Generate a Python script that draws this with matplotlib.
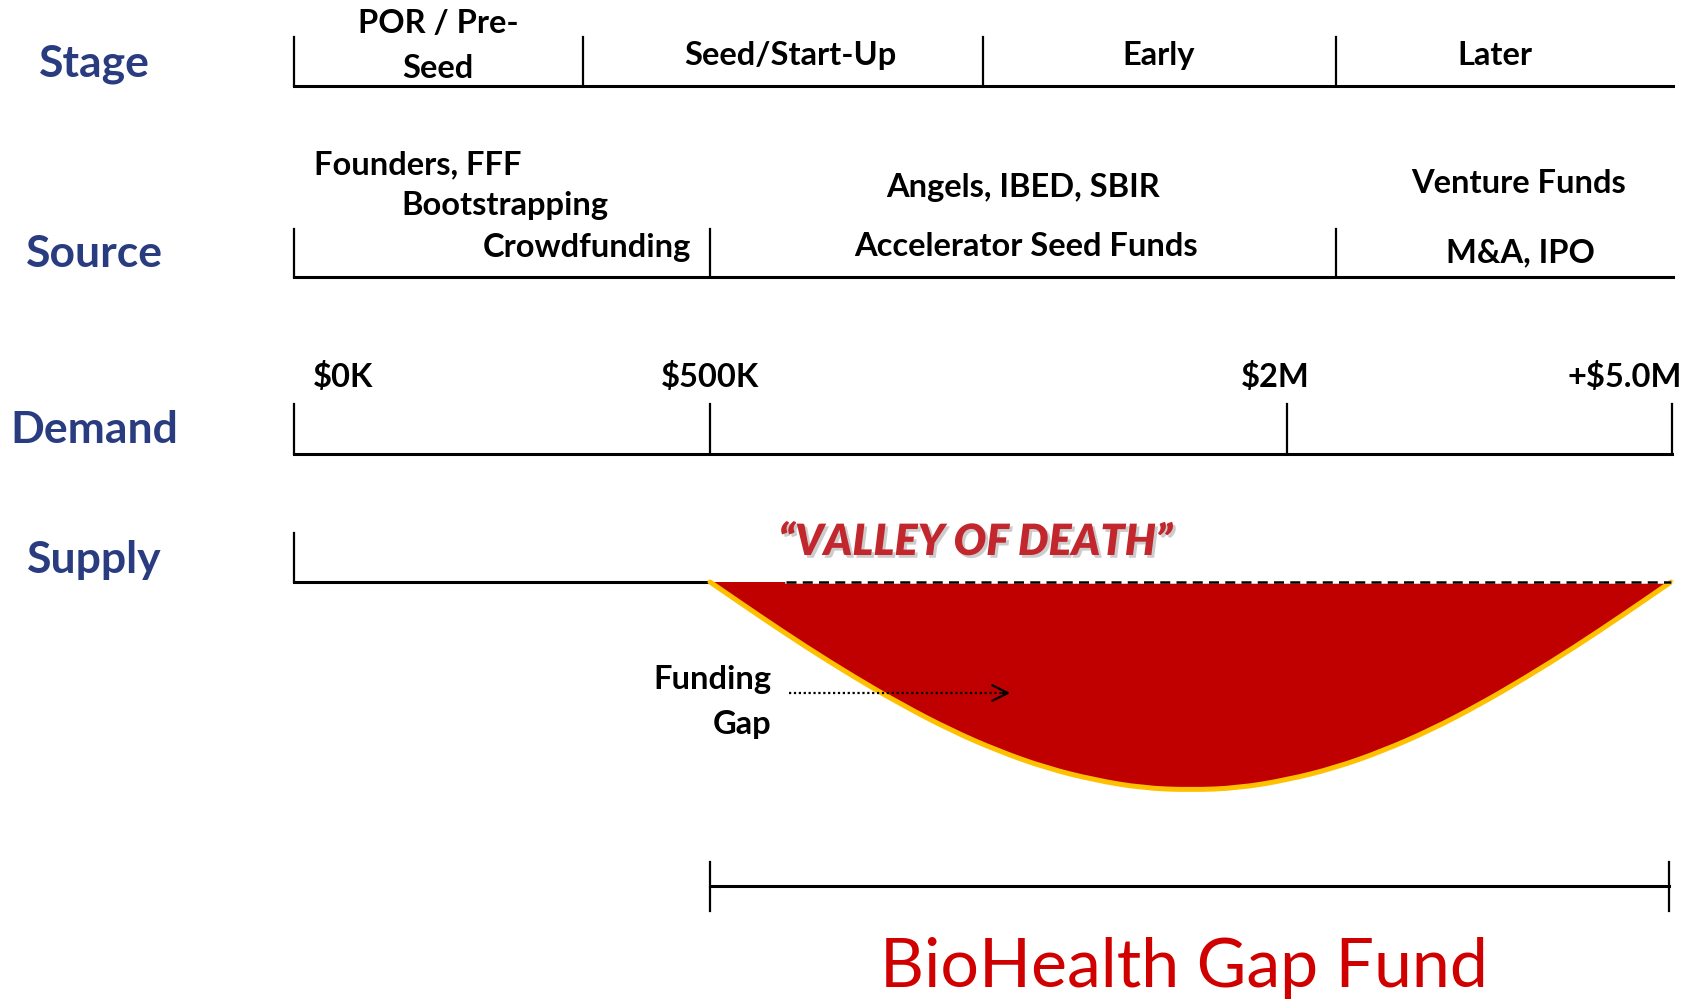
import numpy as np
import matplotlib
matplotlib.use("Agg")
import matplotlib.pyplot as plt
import matplotlib.patheffects as pe
from matplotlib.path import Path
from matplotlib.patches import PathPatch

plt.rcParams['font.family'] = ['Lato', 'DejaVu Sans']

# ---- contenu du schéma ----
row_titles = ["Stage", "Source", "Demand", "Supply"]

stage_labels = ["POR / Pre-\nSeed", "Seed/Start-Up", "Early", "Later"]
stage_edges = [294, 583, 983, 1336, 1673]
stage_label_x = [438, 790, 1159, 1495]

source_early = ["Founders, FFF", "Bootstrapping", "Crowdfunding"]
source_mid = ["Angels, IBED, SBIR", "Accelerator Seed Funds"]
source_late = ["Venture Funds", "M&A, IPO"]
source_edges = [294, 710, 1336, 1673]

demand_labels = ["$0K", "$500K", "$2M", "+$5.0M"]
demand_edges = [294, 710, 1287, 1672]

# profondeur du "valley of death" (en px sous la ligne supply)
gap_frac = [0, .05, .10, .15, .20, .25, .30, .35, .40, .45, .50,
            .55, .60, .65, .70, .75, .80, .85, .90, .95, 1.0]
gap_depth = [0, 33, 65, 95, 123, 148, 169, 186, 198, 206, 208,
             206, 198, 186, 169, 148, 123, 95, 65, 33, 0]

fund_label = "BioHealth Gap Fund"

# ---- couleurs ----
NAVY = "#2A3C80"
RED = "#C00000"
YELLOW = "#FFC000"

fig = plt.figure(figsize=(16.98, 10.01), dpi=100)
ax = fig.add_axes([0, 0, 1, 1])
ax.set_xlim(0, 1698)
ax.set_ylim(1001, 0)
ax.axis("off")

lw = 2.2
bsize = 23.5
tsize = 32

# titres des lignes
for t, yb in zip(row_titles, [76, 267, 443, 573]):
    ax.text(94, yb, t, color=NAVY, fontsize=tsize, fontweight="bold",
            ha="center", va="baseline")

# ---- Stage ----
y_st = 86
ax.plot([stage_edges[0], stage_edges[-1]], [y_st, y_st], color="black", lw=lw)
for x in stage_edges[:-1]:
    ax.plot([x, x], [37, y_st], color="black", lw=1.6)
for cx, lab in zip(stage_label_x, stage_labels):
    lines = lab.split("\n")
    if len(lines) == 2:
        ax.text(cx, 33, lines[0], fontsize=bsize, fontweight="bold", ha="center", va="baseline")
        ax.text(cx, 78, lines[1], fontsize=bsize, fontweight="bold", ha="center", va="baseline")
    else:
        ax.text(cx, 65, lab, fontsize=bsize, fontweight="bold", ha="center", va="baseline")

# ---- Source ----
y_so = 277
ax.plot([source_edges[0], source_edges[-1]], [y_so, y_so], color="black", lw=lw)
for x in source_edges[:-1]:
    ax.plot([x, x], [229, y_so], color="black", lw=1.6)
ax.text(314, 174, source_early[0], fontsize=bsize, fontweight="bold", ha="left", va="baseline")
ax.text(401, 215, source_early[1], fontsize=bsize, fontweight="bold", ha="left", va="baseline")
ax.text(691, 257, source_early[2], fontsize=bsize, fontweight="bold", ha="right", va="baseline")
ax.text(1023, 197, source_mid[0], fontsize=bsize, fontweight="bold", ha="center", va="baseline")
ax.text(1026, 256, source_mid[1], fontsize=bsize, fontweight="bold", ha="center", va="baseline")
ax.text(1519, 193, source_late[0], fontsize=bsize, fontweight="bold", ha="center", va="baseline")
ax.text(1520, 262, source_late[1], fontsize=bsize, fontweight="bold", ha="center", va="baseline")

# ---- Demand ----
y_de = 454
ax.plot([demand_edges[0], demand_edges[-1]], [y_de, y_de], color="black", lw=lw)
for x in demand_edges:
    ax.plot([x, x], [404, y_de], color="black", lw=1.6)
ax.text(313, 387, demand_labels[0], fontsize=bsize, fontweight="bold", ha="left", va="baseline")
ax.text(710, 387, demand_labels[1], fontsize=bsize, fontweight="bold", ha="center", va="baseline")
ax.text(1275, 387, demand_labels[2], fontsize=bsize, fontweight="bold", ha="center", va="baseline")
ax.text(1682, 387, demand_labels[3], fontsize=bsize, fontweight="bold", ha="right", va="baseline")

# ---- Supply + valley of death ----
y_su = 582
x0, x1 = 710, 1671
ax.plot([294, x0], [y_su, y_su], color="black", lw=lw)
ax.plot([294, 294], [533, y_su], color="black", lw=1.6)

gx = x0 + np.array(gap_frac) * (x1 - x0)
gy = y_su + np.array(gap_depth)
pts = np.column_stack([gx, gy])

# courbe lissée : segments quadratiques entre les milieux
verts = [pts[0]]
codes = [Path.MOVETO]
mids = (pts[:-1] + pts[1:]) / 2
verts.append(mids[0]); codes.append(Path.LINETO)
for i in range(1, len(pts) - 1):
    verts += [pts[i], mids[i]]
    codes += [Path.CURVE3, Path.CURVE3]
verts.append(pts[-1]); codes.append(Path.LINETO)
curve = Path(verts, codes)
fill = Path(verts + [pts[0]], codes + [Path.LINETO])
ax.add_patch(PathPatch(fill, facecolor=RED, edgecolor="none", zorder=2))
ax.add_patch(PathPatch(curve, facecolor="none", edgecolor=YELLOW, lw=3.6,
                       capstyle="round", zorder=3))

ax.plot([786, x1], [y_su, y_su], color="white", lw=1.8, zorder=4)
ax.plot([786, x1], [y_su, y_su], color="black", lw=1.8, ls=(0, (4, 2.5)), zorder=5)

ax.text(975, 555, "\u201cVALLEY OF DEATH\u201d", color="#C1272D", fontsize=31,
        fontweight="heavy", style="italic", ha="center", va="baseline",
        path_effects=[pe.SimplePatchShadow(offset=(2, -2), shadow_rgbFace="gray", alpha=0.4),
                      pe.Normal()])

# Funding gap
ax.text(771, 689, "Funding", fontsize=bsize, fontweight="bold", ha="right", va="baseline")
ax.text(771, 734, "Gap", fontsize=bsize, fontweight="bold", ha="right", va="baseline")
ax.plot([789, 1008], [693, 693], color="black", lw=1.6, ls=(0, (1, 1.2)), zorder=6)
ax.annotate("", xy=(1013, 693), xytext=(1000, 693),
            arrowprops=dict(arrowstyle="->", color="black", lw=1.6, mutation_scale=28),
            zorder=6)

# ---- BioHealth Gap Fund ----
y_br = 886
ax.plot([710, 1669], [y_br, y_br], color="black", lw=lw)
for x in [710, 1669]:
    ax.plot([x, x], [862, 911], color="black", lw=1.6)
ax.text(1184, 987, fund_label, color="#D00000", fontsize=49, ha="center", va="baseline")

fig.savefig("out.png", dpi=100)
